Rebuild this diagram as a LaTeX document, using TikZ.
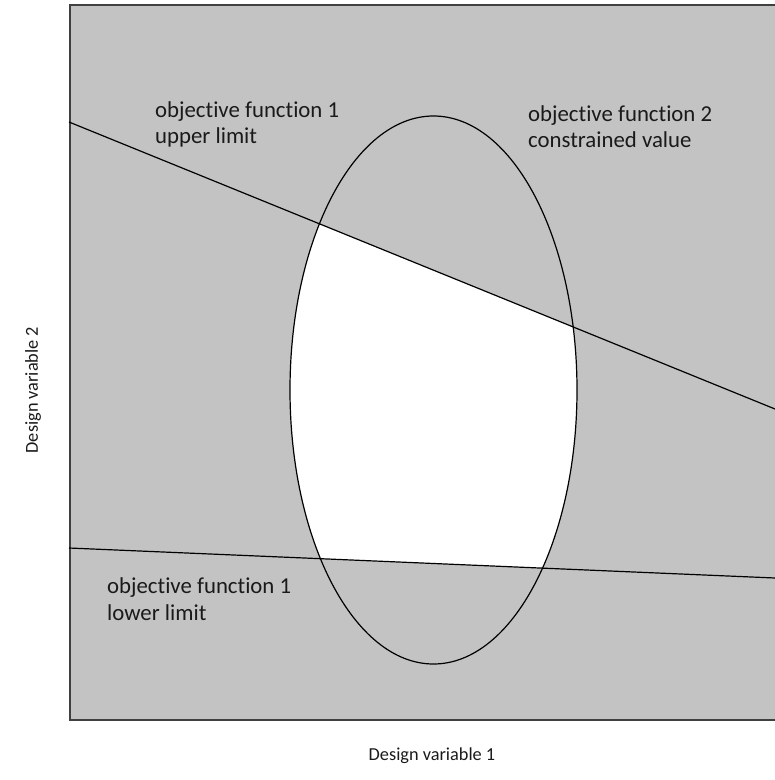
\documentclass[tikz,border=0pt]{standalone}
\usepackage{fontspec}
\setmainfont{Carlito}[Ligatures={NoCommon,NoRare,NoContextual}]
\definecolor{panel}{HTML}{C3C3C3}
\definecolor{frame}{HTML}{404040}
\definecolor{ink}{HTML}{1A1A1A}
\begin{document}
\begin{tikzpicture}[x=1pt,y=-1pt,
  lbl/.style={anchor=base west,inner sep=0pt,font=\fontsize{22.8}{26}\selectfont,text=ink},
  axlbl/.style={inner sep=0pt,font=\fontsize{18.3}{22}\selectfont,text=ink},
  curve/.style={draw=black,line width=1.2pt}]
\useasboundingbox (0,0) rectangle (775,780);
% panel
\coordinate (tl) at (70,5);
\coordinate (br) at (790,720);
\fill[panel] (tl) rectangle (br);
% feasible region (white) inside ellipse between the two lines
\coordinate (c) at (433.5,390);
\coordinate (u1) at (69,122);
\coordinate (u2) at (775,409);
\coordinate (l1) at (69,548);
\coordinate (l2) at (775,578);
\begin{scope}
  \clip (c) ellipse [x radius=143.5, y radius=274];
  \fill[white] (u1) -- (u2) -- (l2) -- (l1) -- cycle;
\end{scope}
% frame (left, top, bottom)
\draw[frame,line width=2pt] (790,5) -- (tl) |- (br);
% constraint lines
\draw[curve] (u1) -- (u2);
\draw[curve] (l1) -- (l2);
% ellipse
\draw[curve] (c) ellipse [x radius=143.5, y radius=274];
% labels
\node[lbl] (t1a) at (155,117) {objective function 1};
\node[lbl] (t1b) at (155,143) {upper limit};
\node[lbl] (t2a) at (528,121) {objective function 2};
\node[lbl] (t2b) at (528,147) {constrained value};
\node[lbl] (t3a) at (107,593) {objective function 1};
\node[lbl] (t3b) at (107,620) {lower limit};
\node[axlbl] (xl) at (432,756) {Design variable 1};
\node[axlbl,rotate=90] (yl) at (33,390) {Design variable 2};
\end{tikzpicture}
\end{document}
